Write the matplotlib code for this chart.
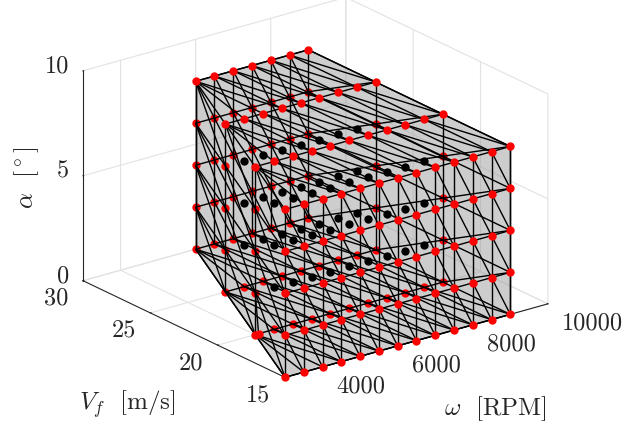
import numpy as np
import matplotlib
matplotlib.use("Agg")
import matplotlib.pyplot as plt
from mpl_toolkits.mplot3d import proj3d
from mpl_toolkits.mplot3d.art3d import Poly3DCollection, Line3DCollection

plt.rcParams['font.family'] = ['cmr10', 'DejaVu Serif']
plt.rcParams['mathtext.fontset'] = 'cm'
plt.rcParams['axes.formatter.use_mathtext'] = True

vf_levels = [30, 25, 20, 15]
omega_start = [6000, 5000, 4000, 3000]
omega_stop = 9000
omega_step = 500
alpha_levels = [0, 2, 4, 6, 8]
extra_point = [(4090, 20, 0)]
omega_ticks = [4000, 6000, 8000, 10000]
vf_ticks = [15, 20, 25, 30]
alpha_ticks = [0, 5, 10]
TEXT = '#262626'
GRID = '#e2e2e2'
FS = 17.5
LABEL_FS = 18

fig = plt.figure(figsize=(6.22, 4.31), dpi=100)
ax = fig.add_axes([0.05, 0.0, 0.9, 1.0], projection='3d', computed_zorder=False,
                  proj_type='ortho')
ax.view_init(elev=21.46, azim=232.6)
ax.set_box_aspect((331, 332.7, 225.6))


def row(i):
    return list(range(omega_start[i], omega_stop + 1, omega_step))


def slant(i, a):
    return (omega_start[i], vf_levels[i], a)


tris_back, tris_front = [], []
# floor and roof: rows of constant Vf joined with a fan at the low-omega end
for a, store in ((alpha_levels[0], tris_back), (alpha_levels[-1], tris_front)):
    for i in range(len(vf_levels) - 1):
        up, lo = row(i), row(i + 1)
        v0, v1 = vf_levels[i], vf_levels[i + 1]
        for l0, l1 in zip(lo[:-1], lo[1:]):
            if l1 <= up[0]:
                store.append([(up[0], v0, a), (l0, v1, a), (l1, v1, a)])
        for u0, u1 in zip(up[:-1], up[1:]):
            store.append([(u0, v0, a), (u0, v1, a), (u1, v1, a)])
            store.append([(u0, v0, a), (u1, v0, a), (u1, v1, a)])
# constant Vf walls
for i, store in ((0, tris_back), (len(vf_levels) - 1, tris_front)):
    r = row(i)
    v = vf_levels[i]
    for u0, u1 in zip(r[:-1], r[1:]):
        for a0, a1 in zip(alpha_levels[:-1], alpha_levels[1:]):
            store.append([(u0, v, a1), (u1, v, a1), (u1, v, a0)])
            store.append([(u0, v, a1), (u0, v, a0), (u1, v, a0)])
# omega limit wall and slanted wall
for i in range(len(vf_levels) - 1):
    v0, v1 = vf_levels[i], vf_levels[i + 1]
    for a0, a1 in zip(alpha_levels[:-1], alpha_levels[1:]):
        tris_back.append([(omega_stop, v0, a0), (omega_stop, v1, a0), (omega_stop, v1, a1)])
        tris_back.append([(omega_stop, v0, a0), (omega_stop, v0, a1), (omega_stop, v1, a1)])
        tris_front.append([slant(i, a1), slant(i + 1, a1), slant(i + 1, a0)])
        tris_front.append([slant(i, a1), slant(i, a0), slant(i + 1, a0)])
tris_front.append([extra_point[0], (4000, 20, 2), (4000, 20, 0)])

ax.add_collection3d(Poly3DCollection(tris_back + tris_front, facecolors=(0.6, 0.6, 0.6, 0.28),
                                     edgecolors='none', linewidths=0, zorder=1))


def edges(tris):
    out = set()
    for t in tris:
        for p, q in ((0, 1), (1, 2), (0, 2)):
            out.add(tuple(sorted((t[p], t[q]))))
    return sorted(out)


ax.add_collection3d(Line3DCollection(edges(tris_back), colors='black', linewidths=1.0, zorder=3))

red_back, red_front, black = [], [], []
for i, v in enumerate(vf_levels):
    for w in row(i):
        for a in alpha_levels:
            inner = 0 < i < len(vf_levels) - 1 and a not in (alpha_levels[0], alpha_levels[-1]) \
                and w not in (omega_start[i], omega_stop)
            if inner:
                black.append((w, v, a))
            elif i == len(vf_levels) - 1 or a == alpha_levels[-1] or (w, v, a) == (4000, 20, 0):
                red_front.append((w, v, a))
            else:
                red_back.append((w, v, a))
red_front += extra_point


def dots(pts, color, z):
    p = np.array(pts)
    ax.scatter(p[:, 0], p[:, 1], p[:, 2], s=36, c=color, linewidths=0, depthshade=False, zorder=z)


dots(red_back, '#ff0000', 2)
dots(black, 'black', 4)
ax.add_collection3d(Line3DCollection(edges(tris_front), colors='black', linewidths=1.0, zorder=5))
dots(red_front, '#ff0000', 6)

ax.set_xticks(omega_ticks)
ax.set_yticks(vf_ticks)
ax.set_zticks(alpha_ticks)
ax.set_xticklabels([])
ax.set_yticklabels([])
ax.set_zticklabels([])
ax.set_xlim(3000, 10000, view_margin=0)
ax.set_ylim(15, 30, view_margin=0)
ax.set_zlim(0, 10, view_margin=0)

for axis in (ax.xaxis, ax.yaxis, ax.zaxis):
    axis.set_pane_color((1, 1, 1, 0))
    axis.pane.set_edgecolor((1, 1, 1, 0))
    axis._axinfo['grid'].update(color=GRID, linewidth=0.8)
    axis._axinfo['tick'].update(inward_factor=0.0, outward_factor=0.03)
    axis._axinfo['axisline']['color'] = TEXT
    axis.line.set_color(TEXT)
    axis.line.set_linewidth(0.8)
ax.tick_params(axis='both', colors=TEXT, width=0.6)
ax.zaxis.set_ticks_position('upper')

# fit the orthographic box onto the reference's pixel frame
origin_px = (83.0, 431 - 281.7)
front_px = (285.0, 431 - 378.4)


def project(x, y, z):
    M = ax.get_proj()
    X, Y, _ = proj3d.proj_transform(np.asarray(x, float), np.asarray(y, float), np.asarray(z, float), M)
    return X, Y


def anchor_display():
    ax.apply_aspect()
    X, Y = project([3000.0, 3000.0], [30.0, 15.0], [0.0, 0.0])
    return ax.transData.transform(np.column_stack([X, Y]))


W, H = fig.get_size_inches() * fig.dpi
l, b, s = 0.0, 0.0, 431.0
for _ in range(4):
    ax.set_position([l / W, b / H, s / W, s / H])
    d = anchor_display()
    s *= (front_px[0] - origin_px[0]) / (d[1, 0] - d[0, 0])
    ax.set_position([l / W, b / H, s / W, s / H])
    d = anchor_display()
    l += origin_px[0] - d[0, 0]
    b += origin_px[1] - d[0, 1]
ax.set_position([l / W, b / H, s / W, s / H])
ax.apply_aspect()


def tick_label(point, text, dx, dy, ha):
    X, Y = project([point[0]], [point[1]], [point[2]])
    ax.annotate(text, xy=(float(X[0]), float(Y[0])), xytext=(dx, dy), textcoords='offset pixels',
                ha=ha, va='center', fontsize=FS, color=TEXT, annotation_clip=False)


for t in omega_ticks:
    tick_label((t, 15, 0), str(t), 14, -18.5, 'left')
for t in vf_ticks:
    tick_label((3000, t, 0), str(t), -14.5, -17, 'right')
for t in alpha_ticks:
    tick_label((3000, 30, t), str(t), -14, 5, 'right')

fig.text(127 / W, 1 - 404 / H, r'$V_f\ $ [m/s]', fontsize=LABEL_FS, color=TEXT, ha='center', va='center')
fig.text(495 / W, 1 - 409 / H, r'$\omega\ $ [RPM]', fontsize=LABEL_FS, color=TEXT, ha='center', va='center')
fig.text(27 / W, 1 - 178 / H, r'$\alpha\ $ [$^\circ$]', fontsize=LABEL_FS, color=TEXT, ha='center', va='center',
         rotation=90)

fig.savefig('out.png', dpi=100, facecolor='white')
